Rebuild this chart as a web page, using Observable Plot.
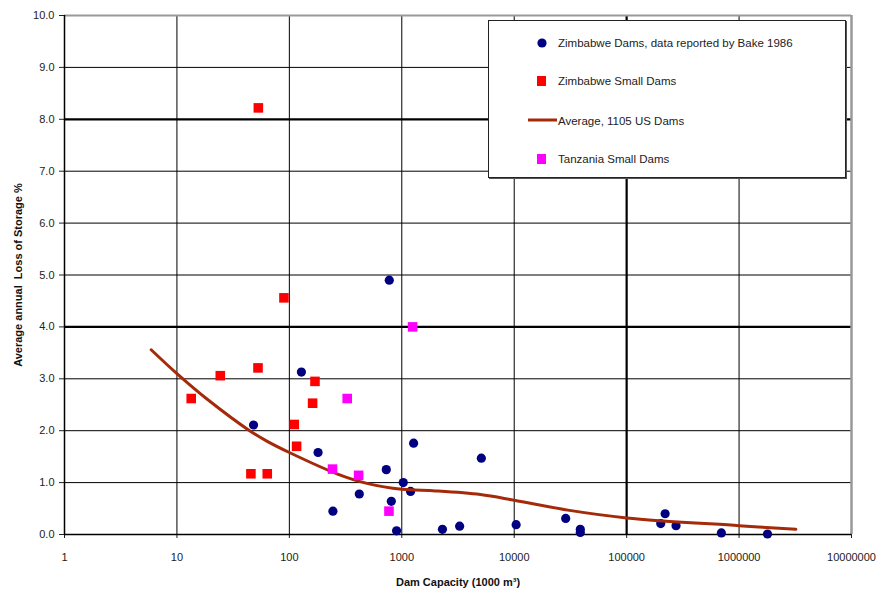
<!DOCTYPE html>
<html>
<head>
<meta charset="utf-8">
<script src="https://cdn.jsdelivr.net/npm/d3@7"></script>
<script src="https://cdn.jsdelivr.net/npm/@observablehq/plot@0.6"></script>
<style>
  html, body { margin: 0; padding: 0; background: white; }
  #wrap { position: relative; width: 879px; height: 589px; font-family: "Liberation Sans", Arial, sans-serif; }
  #wrap svg g[aria-label="x-axis label"] text,
  #wrap svg g[aria-label="y-axis label"] text { font-weight: bold; fill: #111; }
  #legend { position: absolute; left: 488px; top: 20px; width: 356px; height: 156px; border: 1px solid #222;
            background: white; box-shadow: 1px 1px 0 #555; font-size: 11.5px; color: #222; }
  .row { position: absolute; left: 0; height: 14px; }
  .row svg { position: absolute; top: 0; }
  .row span { position: absolute; left: 69px; top: 0; white-space: nowrap; line-height: 14px; }
</style>
</head>
<body>
<div id="wrap"></div>
<script>
// Zimbabwe Dams, data reported by Bake 1986
const zimDamsCap  = [774, 128, 48, 180, 728, 1274, 1031, 1197, 419, 807, 244, 899, 2300, 3270, 5100, 10400, 28700, 38700, 38700, 220000, 201000, 275000, 696000, 1790000];
const zimDamsLoss = [4.90, 3.13, 2.11, 1.58, 1.25, 1.76, 1.00, 0.83, 0.78, 0.64, 0.45, 0.07, 0.10, 0.16, 1.47, 0.19, 0.31, 0.10, 0.04, 0.40, 0.21, 0.17, 0.03, 0.01];

// Zimbabwe Small Dams
const zimSmallCap  = [53, 89.5, 13.4, 24.3, 52.6, 169, 161, 110.6, 116, 45.5, 63.6];
const zimSmallLoss = [8.22, 4.56, 2.62, 3.06, 3.21, 2.95, 2.53, 2.12, 1.70, 1.17, 1.17];

// Tanzania Small Dams
const tanCap  = [1248, 327, 242, 413, 769];
const tanLoss = [4.00, 2.62, 1.26, 1.14, 0.45];

// Average, 1105 US Dams
const usCap  = [5.9, 10, 18.5, 44.3, 63, 100, 265, 500, 1000, 2000, 5000, 10000, 30000, 100000, 1000000, 3200000];
const usLoss = [3.56, 3.10, 2.61, 2.00, 1.80, 1.58, 1.17, 0.98, 0.87, 0.84, 0.77, 0.66, 0.47, 0.32, 0.17, 0.10];

const xTicks = [1, 10, 100, 1000, 10000, 100000, 1000000, 10000000];
const yTicks = [0, 1, 2, 3, 4, 5, 6, 7, 8, 9, 10];

const legendLabels = ["Zimbabwe Dams, data reported by Bake 1986", "Zimbabwe Small Dams", "Average, 1105  US Dams", "Tanzania Small Dams"];

const zim = zimDamsCap.map((c, i) => ({cap: c, loss: zimDamsLoss[i]}));
const zs = zimSmallCap.map((c, i) => ({cap: c, loss: zimSmallLoss[i]}));
const tz = tanCap.map((c, i) => ({cap: c, loss: tanLoss[i]}));
const us = usCap.map((c, i) => ({cap: c, loss: usLoss[i]}));

const gridY = yTicks.filter(d => d > 0 && d < 10);
const gridX = xTicks.filter(d => d > 1 && d < 1e7);

const chart = Plot.plot({
  width: 879,
  height: 589,
  marginLeft: 64,
  marginRight: 28,
  marginTop: 15,
  marginBottom: 55,
  style: {fontFamily: "'Liberation Sans', Arial, sans-serif", fontSize: "11px", color: "#222", background: "white", overflow: "visible"},
  x: {type: "log", domain: [1, 1e7], ticks: xTicks, tickFormat: d => String(d), tickSize: 4, tickPadding: 15,
      label: "Dam Capacity (1000 m³)", labelAnchor: "center", labelOffset: 51, labelArrow: "none"},
  y: {domain: [0, 10], ticks: yTicks, tickFormat: d => d.toFixed(1), tickSize: 5, tickPadding: 5,
      label: "Average annual  Loss of Storage %", labelAnchor: "center", labelOffset: 50, labelArrow: "none"},
  marks: [
    Plot.ruleY(gridY, {stroke: "black", strokeWidth: d => (d === 4 || d === 8 ? 2.2 : 1)}),
    Plot.ruleX(gridX, {stroke: "black", strokeWidth: d => (d === 100000 ? 2.2 : 1)}),
    Plot.ruleY([10], {stroke: "#999", strokeWidth: 2}),
    Plot.ruleX([1e7], {stroke: "#999", strokeWidth: 2.5}),
    Plot.ruleY([0], {stroke: "black", strokeWidth: 1.5}),
    Plot.ruleX([1], {stroke: "black", strokeWidth: 1.5}),
    Plot.dot(zim, {x: "cap", y: "loss", r: 4.6, fill: "#000080", stroke: "none"}),
    Plot.dot(zs, {x: "cap", y: "loss", symbol: "square", r: 5.4, fill: "#ff0000", stroke: "none"}),
    Plot.line(us, {x: "cap", y: "loss", stroke: "#a52a0a", strokeWidth: 3, curve: "catmull-rom"}),
    Plot.dot(tz, {x: "cap", y: "loss", symbol: "square", r: 5.4, fill: "#ff00ff", stroke: "none"})
  ]
});

const wrap = document.getElementById("wrap");
wrap.appendChild(chart);

// Legend (HTML overlay)
const legend = document.createElement("div");
legend.id = "legend";
const rowTops = [15, 53, 93, 131];
const markers = [
  '<svg width="60" height="14" style="left:0"><circle cx="53" cy="7" r="4.6" fill="#000080"/></svg>',
  '<svg width="60" height="14" style="left:0"><rect x="48" y="2" width="9" height="10" fill="#ff0000"/></svg>',
  '<svg width="70" height="14" style="left:0"><line x1="39" x2="68" y1="6" y2="6" stroke="#a52a0a" stroke-width="3"/></svg>',
  '<svg width="60" height="14" style="left:0"><rect x="48" y="2" width="9" height="10" fill="#ff00ff"/></svg>'
];
legendLabels.forEach((lab, i) => {
  const row = document.createElement("div");
  row.className = "row";
  row.style.top = rowTops[i] + "px";
  row.style.width = "350px";
  row.innerHTML = markers[i] + "<span>" + lab + "</span>";
  legend.appendChild(row);
});
wrap.appendChild(legend);
</script>
</body>
</html>
